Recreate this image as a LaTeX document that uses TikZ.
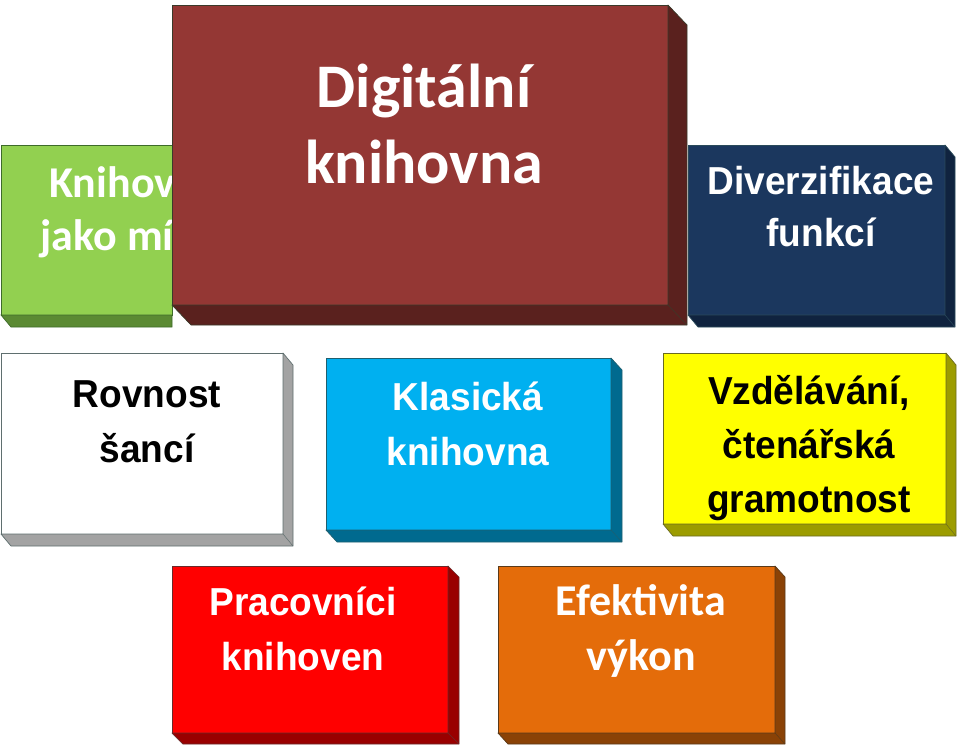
\documentclass[tikz,border=0pt]{standalone}
\usepackage{fontspec}
\usetikzlibrary{calc}
\newfontfamily\calfont{Carlito}
\newfontfamily\arfont[FakeStretch=0.95]{Liberation Sans}
\definecolor{grnF}{HTML}{92D050}\definecolor{grnS}{HTML}{5B8A33}\definecolor{grnL}{HTML}{3E6B2A}
\definecolor{brnF}{HTML}{943734}\definecolor{brnS}{HTML}{5A211E}\definecolor{brnL}{HTML}{3A3A2A}
\definecolor{navF}{HTML}{1B375E}\definecolor{navS}{HTML}{10233F}\definecolor{navL}{HTML}{2A4A5A}
\definecolor{whtF}{HTML}{FFFFFF}\definecolor{whtS}{HTML}{A3A3A3}\definecolor{whtL}{HTML}{5F6F6F}
\definecolor{bluF}{HTML}{00B0F0}\definecolor{bluS}{HTML}{006A8F}\definecolor{bluL}{HTML}{1F5F6F}
\definecolor{yelF}{HTML}{FFFF00}\definecolor{yelS}{HTML}{9C9C00}\definecolor{yelL}{HTML}{6A6A20}
\definecolor{redF}{HTML}{FF0000}\definecolor{redS}{HTML}{990000}\definecolor{redL}{HTML}{6A2A2A}
\definecolor{orgF}{HTML}{E46C0A}\definecolor{orgS}{HTML}{8A4206}\definecolor{orgL}{HTML}{5A3A1A}
\newcommand\boxdepth[5]{% node, dx, dy, side colour, line colour
  \filldraw[fill=#4, draw=#5, line width=0.7pt, line join=round]
    (#1.north east) -- ++(#2,#3) -- ($(#1.south east)+(#2,#3)$) -- ($(#1.south west)+(#2,#3)$)
    -- (#1.south west) -- (#1.south east) -- cycle;
  \draw[#5, line width=0.5pt] (#1.south east) -- ++(#2,#3);
}
\tikzset{
  front/.style 2 args={draw=#2, fill=#1, line width=0.7pt, inner sep=0pt, outer sep=0pt, anchor=north west},
  caltext/.style 2 args={font=\calfont\bfseries\fontsize{#1}{#2}\selectfont, align=center, anchor=base, inner sep=0pt},
  artext/.style 2 args={font=\arfont\bfseries\fontsize{#1}{#2}\selectfont, align=center, anchor=base, inner sep=0pt},
}
\begin{document}
\begin{tikzpicture}[x=1pt,y=-1pt]
\useasboundingbox (0,0) rectangle (960,745);
% top row: green (behind), navy (behind), brown
\node[front={grnF}{grnL}, minimum width=171pt, minimum height=170pt] (green) at (1,145) {};
\filldraw[fill=grnS, draw=grnL, line width=0.7pt] (green.south west) -- (green.south east) -- ++(0,12) -- ($(green.south west)+(10,12)$) -- cycle;
\node[caltext={44}{53}, text=white] (greent) at (135,250) {Knihovna\\jako místo};
\node[front={navF}{navL}, minimum width=257pt, minimum height=170pt] (navy) at (688,145) {};
\boxdepth{navy}{10}{12}{navS}{navL}
\node[artext={39}{52}, text=white] (navyt) at (821,246) {Diverzifikace\\funkcí};
\node[front={brnF}{brnL}, minimum width=496pt, minimum height=300pt] (brown) at (172,5) {};
\boxdepth{brown}{19}{20}{brnS}{brnL}
\node[caltext={62}{76}, text=white] (brownt) at (424,183) {Digitální\\knihovna};
% middle row
\node[front={whtF}{whtL}, minimum width=282pt, minimum height=181pt] (white) at (1,353) {};
\boxdepth{white}{10}{12}{whtS}{whtL}
\node[artext={39}{55}, text=black] (whitet) at (147,462) {Rovnost\\šancí};
\node[front={bluF}{bluL}, minimum width=285pt, minimum height=172pt] (blue) at (326,358) {};
\boxdepth{blue}{11}{12}{bluS}{bluL}
\node[artext={39}{55}, text=white] (bluet) at (468,465) {Klasická\\knihovna};
\node[front={yelF}{yelL}, minimum width=283pt, minimum height=171pt] (yellow) at (663,353) {};
\boxdepth{yellow}{10}{12}{yelS}{yelL}
\node[artext={39}{54}, text=black] (yellowt) at (809,512) {Vzdělávání,\\čtenářská\\gramotnost};
% bottom row
\node[front={redF}{redL}, minimum width=276pt, minimum height=167pt] (red) at (172,566) {};
\boxdepth{red}{11}{11}{redS}{redL}
\node[artext={39}{55}, text=white] (redt) at (303,670) {Pracovníci\\knihoven};
\node[front={orgF}{orgL}, minimum width=277pt, minimum height=167pt] (orange) at (498,566) {};
\boxdepth{orange}{10}{11}{orgS}{orgL}
\node[caltext={44}{55}, text=white] (oranget) at (641,670) {Efektivita\\výkon};
\end{tikzpicture}
\end{document}
